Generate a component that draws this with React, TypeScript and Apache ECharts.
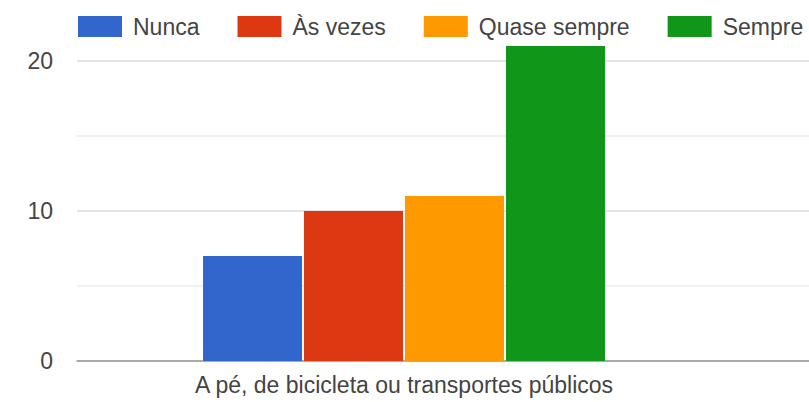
import React, { useEffect, useRef } from "react";
import * as echarts from "echarts";

const categories = ["A pé, de bicicleta ou transportes públicos"];
const seriesNames = ["Nunca", "Às vezes", "Quase sempre", "Sempre"];
const seriesValues = [[7], [10], [11], [21]];
const colors = ["#3366cc", "#dc3912", "#ff9900", "#109618"];
const yTickLabels = ["0", "10", "20"];

const FONT = "'Liberation Sans', Arial, sans-serif";
const OFFSET = 100; // chart canvas extends above the viewport

export default function App() {
  const ref = useRef<HTMLDivElement>(null);
  useEffect(() => {
    if (!ref.current) return;
    const chart = echarts.init(ref.current, undefined, { renderer: "svg" });
    const yMin = 0;
    const yMax = 30;
    chart.setOption({
      animation: false,
      textStyle: { fontFamily: FONT },
      legend: {
        left: 78,
        top: OFFSET + 15,
        width: 800,
        padding: 0,
        itemWidth: 44,
        itemHeight: 21,
        itemGap: 38,
        icon: "rect",
        textStyle: { color: "#444", fontSize: 23, fontFamily: FONT, padding: [0, 0, 0, 6] },
        data: seriesNames,
      },
      grid: [
        { left: 77, right: 78, top: 11, bottom: 41 },
        { left: 77, right: 0, top: 11, bottom: 41 },
      ],
      xAxis: [
        {
          type: "category",
          gridIndex: 0,
          data: categories,
          axisLine: { show: false },
          axisTick: { show: false },
          axisLabel: { color: "#444", fontSize: 23, fontFamily: FONT, margin: 12 },
        },
        {
          type: "value",
          gridIndex: 1,
          min: 0,
          max: 1,
          axisLine: { show: true, onZero: false, lineStyle: { color: "#999", width: 1.5 } },
          axisTick: { show: false },
          axisLabel: { show: false },
          splitLine: { show: false },
        },
      ],
      yAxis: [
        {
          type: "value",
          gridIndex: 0,
          min: yMin,
          max: yMax,
          interval: 10,
          show: false,
          splitLine: { show: false },
        },
        {
          type: "value",
          gridIndex: 1,
          min: yMin,
          max: yMax,
          interval: 10,
          axisLine: { show: false },
          axisTick: { show: false },
          axisLabel: {
            color: "#444",
            fontSize: 23,
            fontFamily: FONT,
            margin: 24,
            formatter: (v: number) => (yTickLabels.includes(String(v)) ? String(v) : ""),
          },
          splitLine: { show: true, lineStyle: { color: "#dadada", width: 1.5 } },
          minorTick: { show: false, splitNumber: 2 },
          minorSplitLine: { show: true, lineStyle: { color: "#ececec", width: 1.5 } },
        },
      ],
      series: seriesNames.map((name, i) => ({
        name,
        type: "bar",
        xAxisIndex: 0,
        yAxisIndex: 0,
        data: seriesValues[i],
        barWidth: 99,
        barGap: "2%",
        itemStyle: { color: colors[i] },
      })),
    });
    return () => chart.dispose();
  }, []);
  return (
    <div
      ref={ref}
      style={{
        position: "fixed",
        left: 0,
        top: -OFFSET,
        width: 809,
        height: 402 + OFFSET,
        background: "#fff",
      }}
    />
  );
}
